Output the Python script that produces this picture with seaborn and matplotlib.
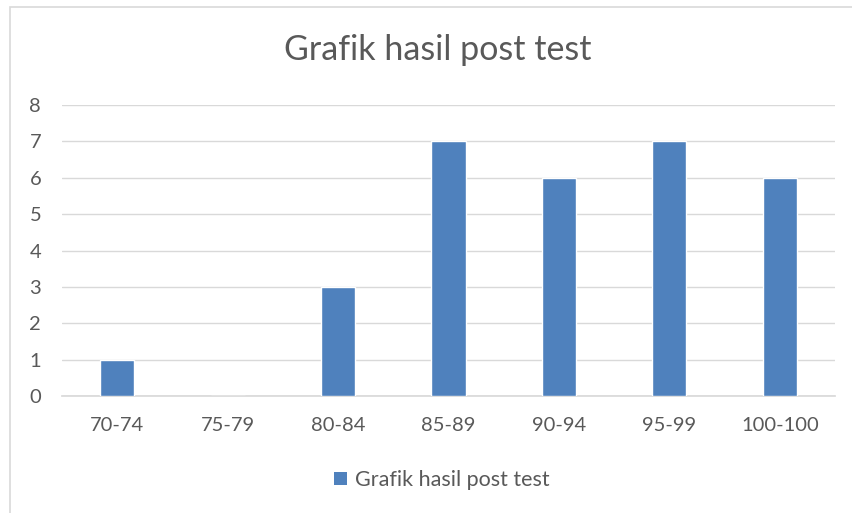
import matplotlib
matplotlib.use("Agg")
import matplotlib.pyplot as plt
import seaborn as sns
import pandas as pd
from matplotlib.patches import Rectangle, Patch

categories = ["70-74", "75-79", "80-84", "85-89", "90-94", "95-99", "100-100"]
counts = [1, 0, 3, 7, 6, 7, 6]
series_name = "Grafik hasil post test"

sns.set_theme(style="white")
plt.rcParams['font.family'] = ['Lato', 'DejaVu Sans']

df = pd.DataFrame({"kelas": categories, "jumlah": counts})

fig = plt.figure(figsize=(8.53, 5.13), dpi=100)
ax = fig.add_axes([62 / 853, 1 - 396 / 513, (835 - 62) / 853, (396 - 105) / 513])

sns.barplot(data=df, x="kelas", y="jumlah", color="#4F81BD", saturation=1,
            width=0.31, ax=ax, zorder=3)

grey = "#595959"
ax.set_ylim(0, 8)
ax.set_yticks(range(0, 9))
ax.yaxis.grid(True, color="#D9D9D9", linewidth=1, zorder=0)
ax.set_xlabel("")
ax.set_ylabel("")
for s in ["top", "right", "left"]:
    ax.spines[s].set_visible(False)
ax.spines["bottom"].set_color("#D9D9D9")
ax.tick_params(axis="both", length=0, labelsize=14.5, colors=grey)
ax.tick_params(axis="x", pad=15)
ax.tick_params(axis="y", pad=15)

fig.text(0.513, 1 - 50 / 513, series_name, ha="center", va="center",
         fontsize=24.5, color=grey)

handle = Patch(facecolor="#4F81BD", edgecolor="none")
fig.legend([handle], [series_name], loc="center", bbox_to_anchor=(442 / 853, 1 - 480 / 513),
           frameon=False, fontsize=15.5, labelcolor=grey, handlelength=0.6,
           handleheight=0.6, handletextpad=0.35)

fig.patches.append(Rectangle((10.5 / 853, -0.1), 1.2, 1 - 6.5 / 513 + 0.1,
                             transform=fig.transFigure, fill=False,
                             edgecolor="#D9D9D9", linewidth=1.2))

fig.savefig("out.png", dpi=100)
